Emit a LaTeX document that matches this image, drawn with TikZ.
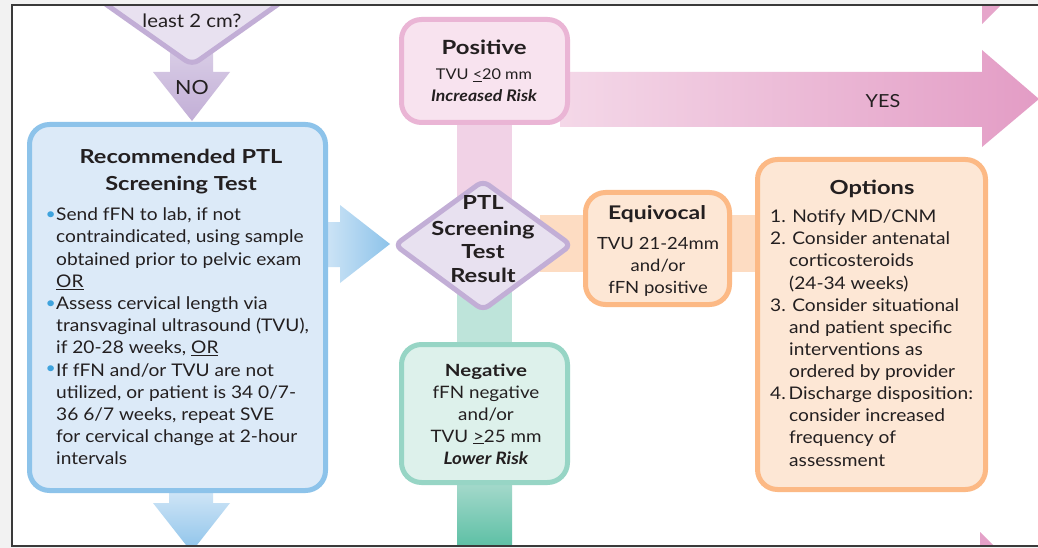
\documentclass[tikz,border=0pt]{standalone}
\usepackage{fontspec}
\setmainfont{Lato}[FakeStretch=1.1]
\newfontfamily\hfont{Lato}[FakeStretch=1.22]
\usetikzlibrary{calc}
\definecolor{ink}{HTML}{231F20}
\definecolor{bggray}{HTML}{F2F2F2}
\definecolor{frame}{HTML}{3A3A3A}
\definecolor{blueB}{HTML}{8DC3EA}
\definecolor{blueF}{HTML}{DCEAF8}
\definecolor{blueL}{HTML}{D3E7F7}
\definecolor{dotc}{HTML}{3FA3DD}
\definecolor{purB}{HTML}{C2AED6}
\definecolor{purF}{HTML}{E8E1F0}
\definecolor{purL}{HTML}{DACFE7}
\definecolor{pinkB}{HTML}{EAB5D5}
\definecolor{pinkF}{HTML}{F8E3EF}
\definecolor{pinkBar}{HTML}{F1D2E6}
\definecolor{pinkL}{HTML}{F4D8E8}
\definecolor{pinkD}{HTML}{E39CC5}
\definecolor{oraB}{HTML}{FCB985}
\definecolor{oraF}{HTML}{FDE7D5}
\definecolor{oraBar}{HTML}{FDDCC2}
\definecolor{grnB}{HTML}{97D5C5}
\definecolor{grnF}{HTML}{DDF1EB}
\definecolor{grnBar}{HTML}{BEE4DA}
\definecolor{grnL}{HTML}{A8DACD}
\definecolor{grnD}{HTML}{5BBFA4}
\newcommand{\fs}[1]{\fontsize{#1}{#1}\selectfont}
\begin{document}
\begin{tikzpicture}[x=1pt,y=-1pt,
  txt/.style={font=\fs{17.4}, text=ink, inner sep=0pt, anchor=base west},
  ctxt/.style={txt, anchor=base},
  ttl/.style={font=\hfont\bfseries\fs{19.4}, text=ink, inner sep=0pt, anchor=base},
  box/.style={line width=5pt, rounded corners=20pt, inner sep=0pt},
  bul/.style={txt, label={[text=dotc, inner sep=0pt, font=\fs{16}]left:\textbullet\hspace{4.5pt}}}
]
\useasboundingbox (0,0) rectangle (1038,548);
\fill[bggray] (0,0) rectangle (1038,548);
\fill[white] (12,5) rectangle (1038,546);
\begin{scope}
\clip (12,5) rectangle (1038,546);
% partial pink arrowheads at right edge
\fill[pinkD!90!white] (982,-40) -- (982,24) -- (1046,-40) -- cycle;
\fill[pinkD!95!white] (980,532) -- (1060,612) -- (980,612) -- cycle;
% YES arrow
\shade[left color=pinkL, right color=pinkD] (560,72) -- (982,72) -- (982,50) -- (1039,99) -- (982,147) -- (982,127) -- (560,127) -- cycle;
% NO arrow
\shade[top color=purL, bottom color=purB] (170,45) -- (213,45) -- (213,72) -- (230,72) -- (192,121) -- (153,72) -- (170,72) -- cycle;
% top diamond (cut)
\draw[line width=5pt, draw=purB, fill=purF, rounded corners=8pt] (192,65) -- (12,-62) -- (192,-190) -- (372,-62) -- cycle;
\node[ctxt, font=\fs{18.5}] (q) at (192,28) {least 2 cm?};
\node[font=\fs{19.5}, text=ink, inner sep=0pt] (no) at (192,88) {NO};
% bars
\fill[pinkBar] (457,115) rectangle (512,210);
\fill[grnBar] (457,280) rectangle (512,350);
\shade[top color=grnL, bottom color=grnD] (457,480) rectangle (512,548);
\fill[oraBar] (540,215) rectangle (765,272);
% blue arrows
\shade[left color=blueL, right color=blueB] (320,222) -- (340,222) -- (340,205) -- (390,244) -- (340,283) -- (340,267) -- (320,267) -- cycle;
\shade[top color=blueL, bottom color=blueB] (169,488) -- (213,488) -- (213,503) -- (230,503) -- (191.5,552) -- (153,503) -- (169,503) -- cycle;
% boxes
\node[box, draw=blueB, fill=blueF, minimum width=296pt, minimum height=366pt] (rec) at (177.5,307.5) {};
\node[box, draw=pinkB, fill=pinkF, minimum width=166pt, minimum height=103pt] (pos) at (484.5,71) {};
\node[box, draw=oraB, fill=oraF, minimum width=144pt, minimum height=112pt] (equ) at (657.5,248.5) {};
\node[box, draw=grnB, fill=grnF, minimum width=166pt, minimum height=138pt] (neg) at (484.5,413.5) {};
\node[box, draw=oraB, fill=oraF, minimum width=228pt, minimum height=330pt] (opt) at (871.5,324.5) {};
% result diamond
\coordinate (res) at (483,245);
\draw[line width=5pt, draw=purB, fill=purF, rounded corners=7pt] ($(res)+(-88,0)$) -- ($(res)+(0,-64)$) -- ($(res)+(88,0)$) -- ($(res)+(0,65)$) -- cycle;
\node[ttl] (r1) at (483,210) {PTL};
\node[ttl] (r2) at (483,235) {Screening};
\node[ttl] (r3) at (483,258) {Test};
\node[ttl] (r4) at (483,282) {Result};
% YES label
\node[font=\fs{18}, text=ink, inner sep=0pt] (yes) at (883,101) {YES};
% recommended box text
\node[ttl, font=\hfont\bfseries\fs{19.3}] (t1) at (181,163.5) {Recommended PTL};
\node[ttl, font=\hfont\bfseries\fs{19.3}] (t2) at (181,190) {Screening Test};
\node[bul] (b1) at (56,220.7) {Send fFN to lab, if not};
\node[txt] (b2) at (56,242.9) {contraindicated, using sample};
\node[txt] (b3) at (56,265.1) {obtained prior to pelvic exam};
\node[txt] (b4) at (56,287.3) {\underline{OR}};
\node[bul] (b5) at (56,309.5) {Assess cervical length via};
\node[txt] (b6) at (56,331.7) {transvaginal ultrasound (TVU),};
\node[txt] (b7) at (56,353.9) {if 20-28 weeks, \underline{OR}};
\node[bul] (b8) at (56,376.1) {If fFN and/or TVU are not};
\node[txt] (b9) at (56,398.3) {utilized, or patient is 34 0/7-};
\node[txt] (b10) at (56,420.5) {36 6/7 weeks, repeat SVE};
\node[txt] (b11) at (56,442.7) {for cervical change at 2-hour};
\node[txt] (b12) at (56,464.9) {intervals};
% positive
\node[ttl, font=\hfont\bfseries\fs{19.6}] (p1) at (484,54.3) {Positive};
\node[ctxt, font=\fs{14.8}] (p2) at (484,80) {TVU \underline{<}20 mm};
\node[ctxt, font=\bfseries\itshape\fs{16}] (p3) at (484,102) {Increased Risk};
% equivocal
\node[ttl, font=\hfont\bfseries\fs{18.8}] (e1) at (657,219) {Equivocal};
\node[ctxt, font=\fs{16.8}] (e2) at (658,249) {TVU 21-24mm};
\node[ctxt, font=\fs{16.8}] (e3) at (658,271) {and/or};
\node[ctxt, font=\fs{16.8}] (e4) at (658,293) {fFN positive};
% negative
\node[ttl, font=\hfont\bfseries\fs{16.8}] (n1) at (486,376) {Negative};
\node[ctxt, font=\fs{17.1}] (n2) at (486,398) {fFN negative};
\node[ctxt, font=\fs{17.1}] (n3) at (486,420) {and/or};
\node[ctxt, font=\fs{17.1}] (n4) at (486,442) {TVU \underline{>}25 mm};
\node[ctxt, font=\bfseries\itshape\fs{17.1}] (n5) at (486,464) {Lower Risk};
% options
\node[ttl] (o0) at (872,194) {Options};
\node[txt] (o1) at (770,222.7) {1. Notify MD/CNM};
\node[txt] (o2) at (770,244.8) {2. Consider antenatal};
\node[txt] (o3) at (789,266.9) {corticosteroids};
\node[txt] (o4) at (789,289) {(24-34 weeks)};
\node[txt] (o5) at (770,311.1) {3. Consider situational};
\node[txt] (o6) at (789,333.2) {and patient specific};
\node[txt] (o7) at (789,355.3) {interventions as};
\node[txt] (o8) at (789,377.4) {ordered by provider};
\node[txt] (o9) at (770,399.5) {4.\,Discharge disposition:};
\node[txt] (o10) at (789,421.6) {consider increased};
\node[txt] (o11) at (789,443.7) {frequency of};
\node[txt] (o12) at (789,466.7) {assessment};
\end{scope}
\draw[frame, line width=1.5pt] (1038,5) -- (12,5) -- (12,546) -- (1038,546);
\end{tikzpicture}
\end{document}
